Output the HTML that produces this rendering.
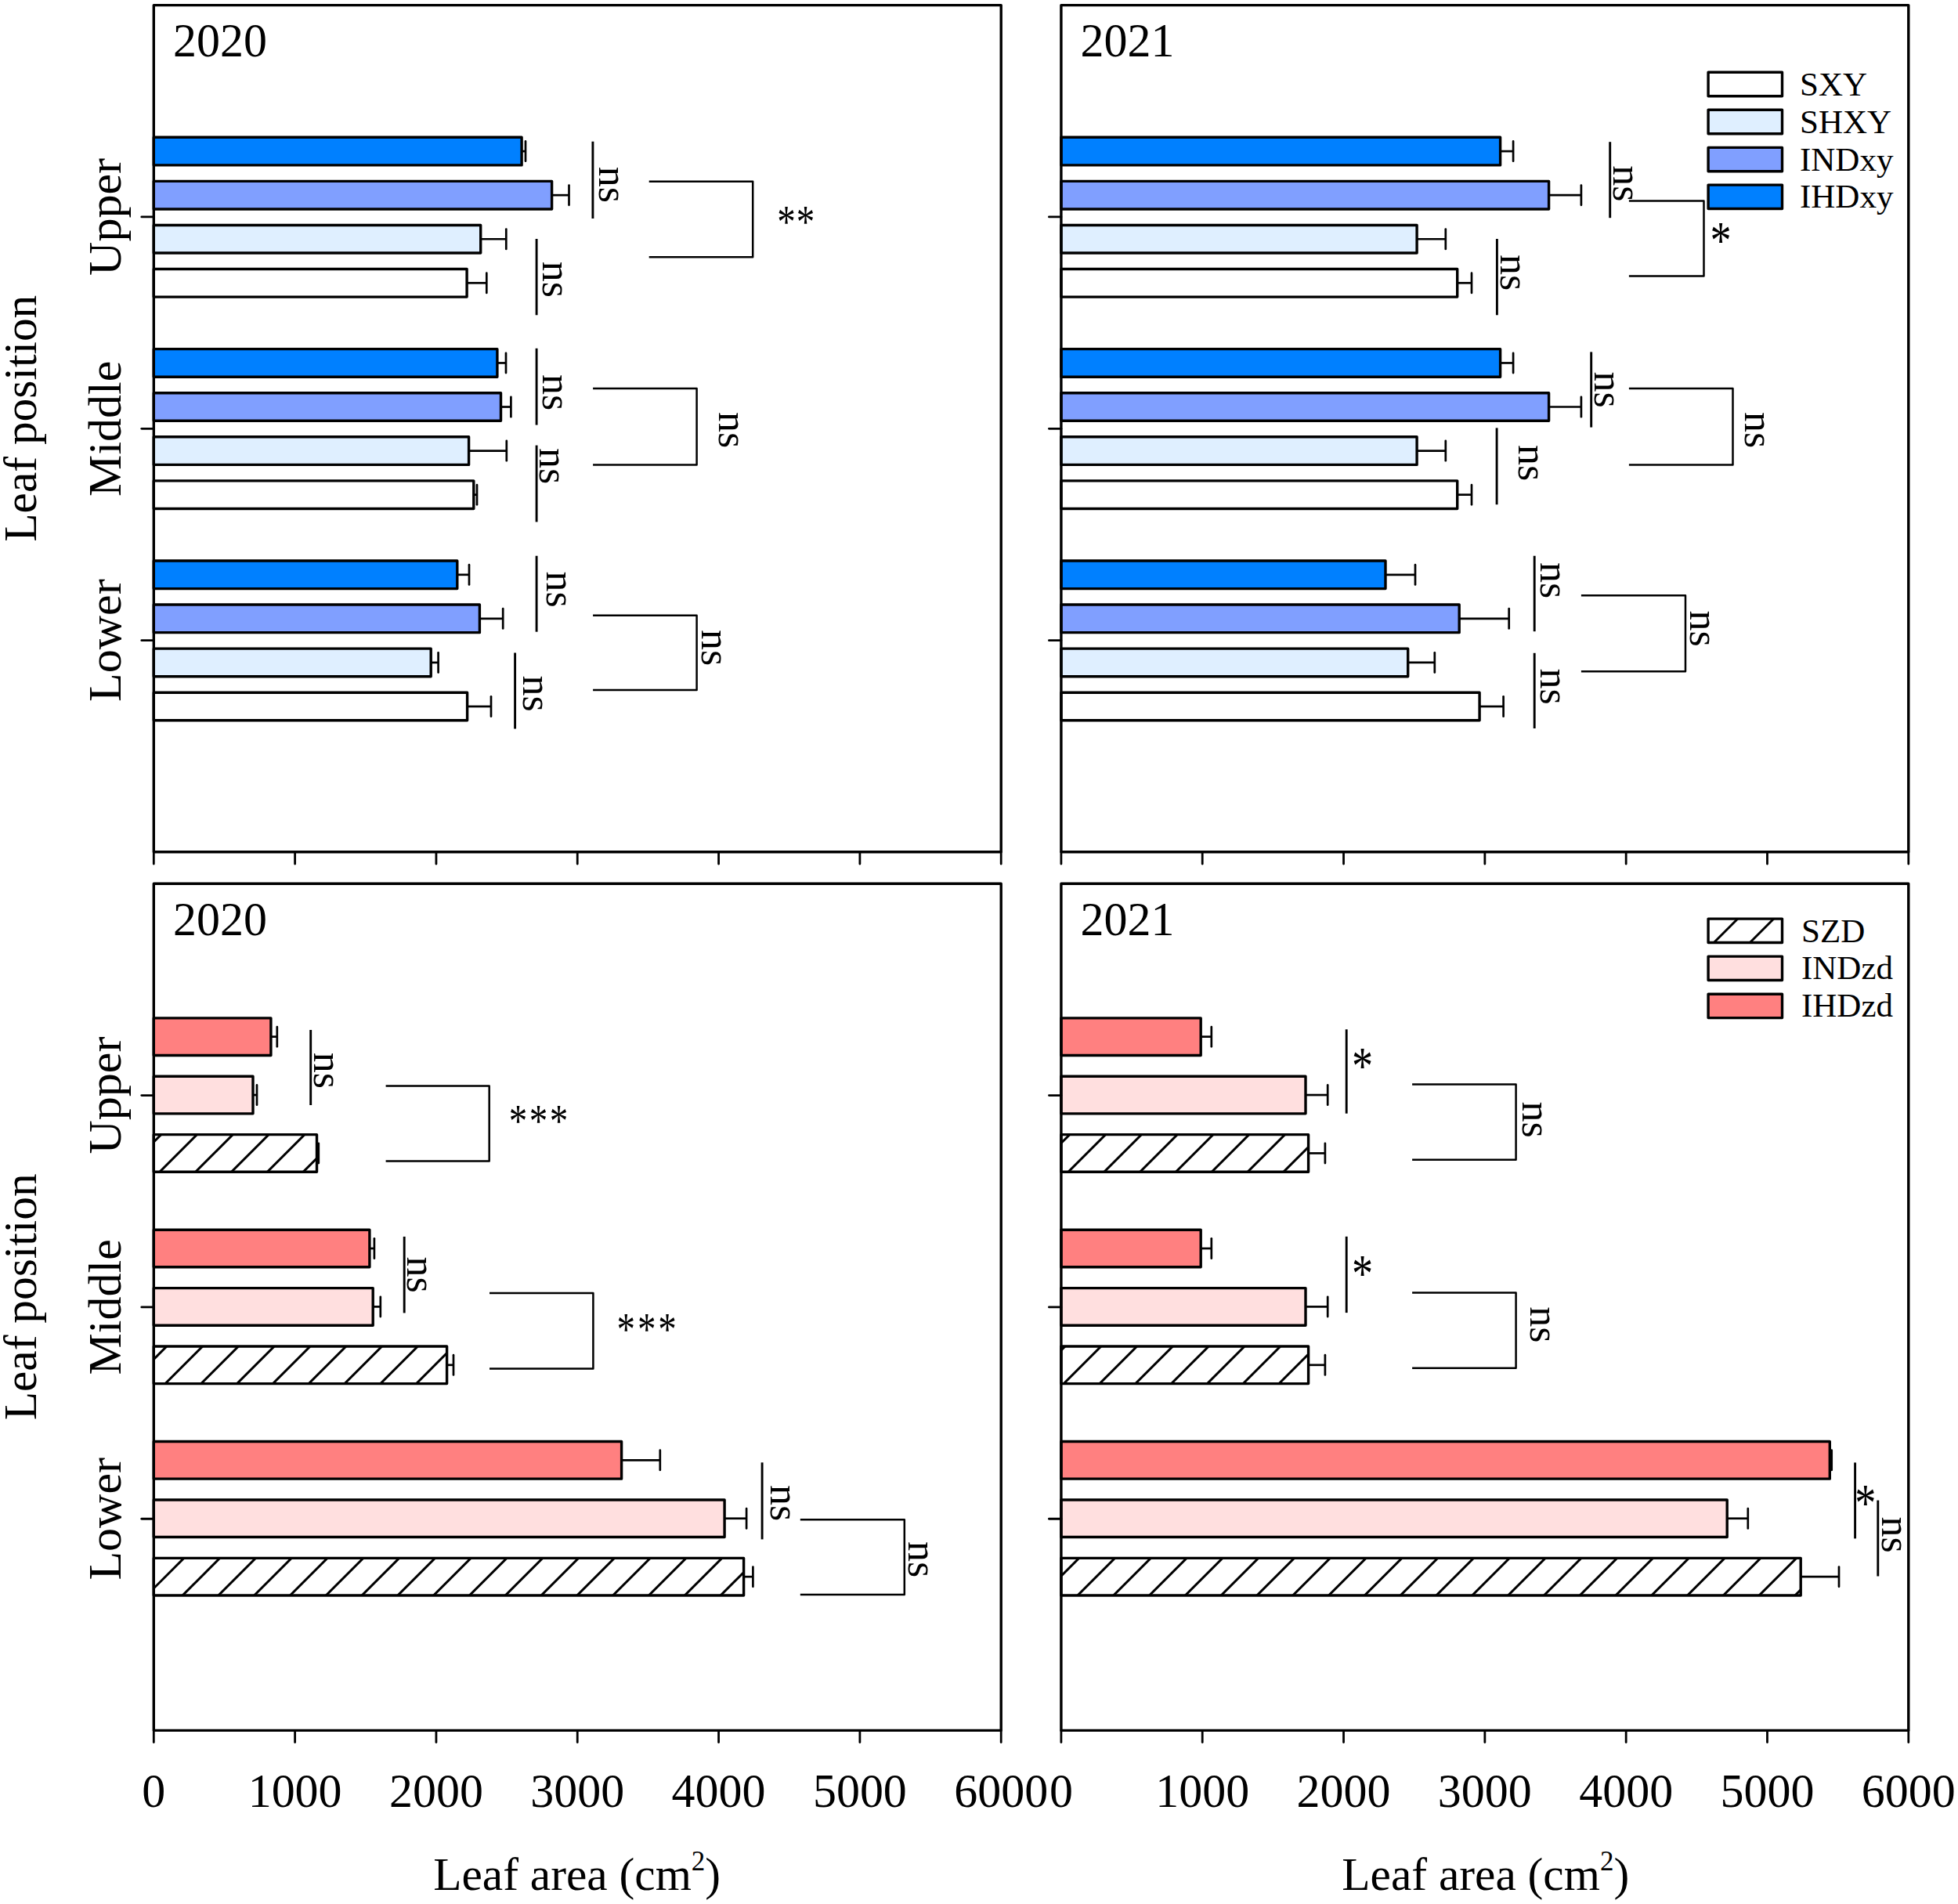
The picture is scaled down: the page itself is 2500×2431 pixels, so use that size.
<!DOCTYPE html>
<html><head><meta charset="utf-8"><title>Leaf area by leaf position</title>
<style>html,body{margin:0;padding:0;background:#fff}svg{display:block}</style>
</head><body>
<svg width="2500" height="2431" viewBox="0 0 2500 2431" font-family='"Liberation Serif", "Times New Roman", serif' fill="#000">
<rect width="2500" height="2431" fill="#fff"/>
<defs>
</defs>
<line x1="666.10" y1="193.10" x2="671.00" y2="193.10" stroke="#000" stroke-width="2.7" stroke-linecap="butt"/>
<line x1="671.00" y1="180.45" x2="671.00" y2="205.75" stroke="#000" stroke-width="2.7" stroke-linecap="round"/>
<rect x="196.30" y="175.30" width="469.80" height="35.60" fill="#0080ff" stroke="#000" stroke-width="3.4" stroke-linejoin="round"/>
<line x1="704.60" y1="249.17" x2="726.50" y2="249.17" stroke="#000" stroke-width="2.7" stroke-linecap="butt"/>
<line x1="726.50" y1="236.52" x2="726.50" y2="261.82" stroke="#000" stroke-width="2.7" stroke-linecap="round"/>
<rect x="196.30" y="231.37" width="508.30" height="35.60" fill="#809fff" stroke="#000" stroke-width="3.4" stroke-linejoin="round"/>
<line x1="613.70" y1="305.23" x2="646.30" y2="305.23" stroke="#000" stroke-width="2.7" stroke-linecap="butt"/>
<line x1="646.30" y1="292.58" x2="646.30" y2="317.88" stroke="#000" stroke-width="2.7" stroke-linecap="round"/>
<rect x="196.30" y="287.43" width="417.40" height="35.60" fill="#dfefff" stroke="#000" stroke-width="3.4" stroke-linejoin="round"/>
<line x1="596.10" y1="361.30" x2="621.30" y2="361.30" stroke="#000" stroke-width="2.7" stroke-linecap="butt"/>
<line x1="621.30" y1="348.65" x2="621.30" y2="373.95" stroke="#000" stroke-width="2.7" stroke-linecap="round"/>
<rect x="196.30" y="343.50" width="399.80" height="35.60" fill="#ffffff" stroke="#000" stroke-width="3.4" stroke-linejoin="round"/>
<line x1="634.90" y1="463.45" x2="646.00" y2="463.45" stroke="#000" stroke-width="2.7" stroke-linecap="butt"/>
<line x1="646.00" y1="450.80" x2="646.00" y2="476.10" stroke="#000" stroke-width="2.7" stroke-linecap="round"/>
<rect x="196.30" y="445.65" width="438.60" height="35.60" fill="#0080ff" stroke="#000" stroke-width="3.4" stroke-linejoin="round"/>
<line x1="639.50" y1="519.52" x2="652.40" y2="519.52" stroke="#000" stroke-width="2.7" stroke-linecap="butt"/>
<line x1="652.40" y1="506.87" x2="652.40" y2="532.17" stroke="#000" stroke-width="2.7" stroke-linecap="round"/>
<rect x="196.30" y="501.72" width="443.20" height="35.60" fill="#809fff" stroke="#000" stroke-width="3.4" stroke-linejoin="round"/>
<line x1="598.60" y1="575.58" x2="646.80" y2="575.58" stroke="#000" stroke-width="2.7" stroke-linecap="butt"/>
<line x1="646.80" y1="562.93" x2="646.80" y2="588.23" stroke="#000" stroke-width="2.7" stroke-linecap="round"/>
<rect x="196.30" y="557.78" width="402.30" height="35.60" fill="#dfefff" stroke="#000" stroke-width="3.4" stroke-linejoin="round"/>
<line x1="604.80" y1="631.65" x2="609.00" y2="631.65" stroke="#000" stroke-width="2.7" stroke-linecap="butt"/>
<line x1="609.00" y1="619.00" x2="609.00" y2="644.30" stroke="#000" stroke-width="2.7" stroke-linecap="round"/>
<rect x="196.30" y="613.85" width="408.50" height="35.60" fill="#ffffff" stroke="#000" stroke-width="3.4" stroke-linejoin="round"/>
<line x1="583.80" y1="733.80" x2="599.00" y2="733.80" stroke="#000" stroke-width="2.7" stroke-linecap="butt"/>
<line x1="599.00" y1="721.15" x2="599.00" y2="746.45" stroke="#000" stroke-width="2.7" stroke-linecap="round"/>
<rect x="196.30" y="716.00" width="387.50" height="35.60" fill="#0080ff" stroke="#000" stroke-width="3.4" stroke-linejoin="round"/>
<line x1="612.40" y1="789.87" x2="642.20" y2="789.87" stroke="#000" stroke-width="2.7" stroke-linecap="butt"/>
<line x1="642.20" y1="777.22" x2="642.20" y2="802.52" stroke="#000" stroke-width="2.7" stroke-linecap="round"/>
<rect x="196.30" y="772.07" width="416.10" height="35.60" fill="#809fff" stroke="#000" stroke-width="3.4" stroke-linejoin="round"/>
<line x1="550.20" y1="845.93" x2="559.60" y2="845.93" stroke="#000" stroke-width="2.7" stroke-linecap="butt"/>
<line x1="559.60" y1="833.28" x2="559.60" y2="858.58" stroke="#000" stroke-width="2.7" stroke-linecap="round"/>
<rect x="196.30" y="828.13" width="353.90" height="35.60" fill="#dfefff" stroke="#000" stroke-width="3.4" stroke-linejoin="round"/>
<line x1="596.60" y1="902.00" x2="627.00" y2="902.00" stroke="#000" stroke-width="2.7" stroke-linecap="butt"/>
<line x1="627.00" y1="889.35" x2="627.00" y2="914.65" stroke="#000" stroke-width="2.7" stroke-linecap="round"/>
<rect x="196.30" y="884.20" width="400.30" height="35.60" fill="#ffffff" stroke="#000" stroke-width="3.4" stroke-linejoin="round"/>
<rect x="196.30" y="6.60" width="1081.90" height="1081.20" fill="none" stroke="#000" stroke-width="3.4" stroke-linejoin="round"/>
<line x1="196.30" y1="1087.80" x2="196.30" y2="1103.00" stroke="#000" stroke-width="2.8000000000000003" stroke-linecap="round"/>
<line x1="376.62" y1="1087.80" x2="376.62" y2="1103.00" stroke="#000" stroke-width="2.8000000000000003" stroke-linecap="round"/>
<line x1="556.93" y1="1087.80" x2="556.93" y2="1103.00" stroke="#000" stroke-width="2.8000000000000003" stroke-linecap="round"/>
<line x1="737.25" y1="1087.80" x2="737.25" y2="1103.00" stroke="#000" stroke-width="2.8000000000000003" stroke-linecap="round"/>
<line x1="917.57" y1="1087.80" x2="917.57" y2="1103.00" stroke="#000" stroke-width="2.8000000000000003" stroke-linecap="round"/>
<line x1="1097.88" y1="1087.80" x2="1097.88" y2="1103.00" stroke="#000" stroke-width="2.8000000000000003" stroke-linecap="round"/>
<line x1="1278.20" y1="1087.80" x2="1278.20" y2="1103.00" stroke="#000" stroke-width="2.8000000000000003" stroke-linecap="round"/>
<line x1="180.80" y1="276.95" x2="196.30" y2="276.95" stroke="#000" stroke-width="2.8000000000000003" stroke-linecap="round"/>
<text transform="translate(153.70 276.95) rotate(-90)" font-size="60" text-anchor="middle">Upper</text>
<line x1="180.80" y1="547.30" x2="196.30" y2="547.30" stroke="#000" stroke-width="2.8000000000000003" stroke-linecap="round"/>
<text transform="translate(153.70 547.30) rotate(-90)" font-size="60" text-anchor="middle">Middle</text>
<line x1="180.80" y1="817.65" x2="196.30" y2="817.65" stroke="#000" stroke-width="2.8000000000000003" stroke-linecap="round"/>
<text transform="translate(153.70 817.65) rotate(-90)" font-size="60" text-anchor="middle">Lower</text>
<text transform="translate(220.90 72.20) scale(1 1.02)" font-size="60">2020</text>
<text transform="translate(46.20 534.20) rotate(-90)" font-size="59.4" text-anchor="middle">Leaf position</text>
<line x1="1915.60" y1="193.10" x2="1932.10" y2="193.10" stroke="#000" stroke-width="2.7" stroke-linecap="butt"/>
<line x1="1932.10" y1="180.45" x2="1932.10" y2="205.75" stroke="#000" stroke-width="2.7" stroke-linecap="round"/>
<rect x="1354.90" y="175.30" width="560.70" height="35.60" fill="#0080ff" stroke="#000" stroke-width="3.4" stroke-linejoin="round"/>
<line x1="1977.60" y1="249.17" x2="2018.90" y2="249.17" stroke="#000" stroke-width="2.7" stroke-linecap="butt"/>
<line x1="2018.90" y1="236.52" x2="2018.90" y2="261.82" stroke="#000" stroke-width="2.7" stroke-linecap="round"/>
<rect x="1354.90" y="231.37" width="622.70" height="35.60" fill="#809fff" stroke="#000" stroke-width="3.4" stroke-linejoin="round"/>
<line x1="1809.10" y1="305.23" x2="1845.80" y2="305.23" stroke="#000" stroke-width="2.7" stroke-linecap="butt"/>
<line x1="1845.80" y1="292.58" x2="1845.80" y2="317.88" stroke="#000" stroke-width="2.7" stroke-linecap="round"/>
<rect x="1354.90" y="287.43" width="454.20" height="35.60" fill="#dfefff" stroke="#000" stroke-width="3.4" stroke-linejoin="round"/>
<line x1="1860.70" y1="361.30" x2="1879.00" y2="361.30" stroke="#000" stroke-width="2.7" stroke-linecap="butt"/>
<line x1="1879.00" y1="348.65" x2="1879.00" y2="373.95" stroke="#000" stroke-width="2.7" stroke-linecap="round"/>
<rect x="1354.90" y="343.50" width="505.80" height="35.60" fill="#ffffff" stroke="#000" stroke-width="3.4" stroke-linejoin="round"/>
<line x1="1915.60" y1="463.45" x2="1932.10" y2="463.45" stroke="#000" stroke-width="2.7" stroke-linecap="butt"/>
<line x1="1932.10" y1="450.80" x2="1932.10" y2="476.10" stroke="#000" stroke-width="2.7" stroke-linecap="round"/>
<rect x="1354.90" y="445.65" width="560.70" height="35.60" fill="#0080ff" stroke="#000" stroke-width="3.4" stroke-linejoin="round"/>
<line x1="1977.60" y1="519.52" x2="2018.90" y2="519.52" stroke="#000" stroke-width="2.7" stroke-linecap="butt"/>
<line x1="2018.90" y1="506.87" x2="2018.90" y2="532.17" stroke="#000" stroke-width="2.7" stroke-linecap="round"/>
<rect x="1354.90" y="501.72" width="622.70" height="35.60" fill="#809fff" stroke="#000" stroke-width="3.4" stroke-linejoin="round"/>
<line x1="1809.10" y1="575.58" x2="1845.80" y2="575.58" stroke="#000" stroke-width="2.7" stroke-linecap="butt"/>
<line x1="1845.80" y1="562.93" x2="1845.80" y2="588.23" stroke="#000" stroke-width="2.7" stroke-linecap="round"/>
<rect x="1354.90" y="557.78" width="454.20" height="35.60" fill="#dfefff" stroke="#000" stroke-width="3.4" stroke-linejoin="round"/>
<line x1="1860.70" y1="631.65" x2="1879.00" y2="631.65" stroke="#000" stroke-width="2.7" stroke-linecap="butt"/>
<line x1="1879.00" y1="619.00" x2="1879.00" y2="644.30" stroke="#000" stroke-width="2.7" stroke-linecap="round"/>
<rect x="1354.90" y="613.85" width="505.80" height="35.60" fill="#ffffff" stroke="#000" stroke-width="3.4" stroke-linejoin="round"/>
<line x1="1769.00" y1="733.80" x2="1807.00" y2="733.80" stroke="#000" stroke-width="2.7" stroke-linecap="butt"/>
<line x1="1807.00" y1="721.15" x2="1807.00" y2="746.45" stroke="#000" stroke-width="2.7" stroke-linecap="round"/>
<rect x="1354.90" y="716.00" width="414.10" height="35.60" fill="#0080ff" stroke="#000" stroke-width="3.4" stroke-linejoin="round"/>
<line x1="1863.20" y1="789.87" x2="1926.70" y2="789.87" stroke="#000" stroke-width="2.7" stroke-linecap="butt"/>
<line x1="1926.70" y1="777.22" x2="1926.70" y2="802.52" stroke="#000" stroke-width="2.7" stroke-linecap="round"/>
<rect x="1354.90" y="772.07" width="508.30" height="35.60" fill="#809fff" stroke="#000" stroke-width="3.4" stroke-linejoin="round"/>
<line x1="1797.70" y1="845.93" x2="1831.80" y2="845.93" stroke="#000" stroke-width="2.7" stroke-linecap="butt"/>
<line x1="1831.80" y1="833.28" x2="1831.80" y2="858.58" stroke="#000" stroke-width="2.7" stroke-linecap="round"/>
<rect x="1354.90" y="828.13" width="442.80" height="35.60" fill="#dfefff" stroke="#000" stroke-width="3.4" stroke-linejoin="round"/>
<line x1="1889.10" y1="902.00" x2="1919.60" y2="902.00" stroke="#000" stroke-width="2.7" stroke-linecap="butt"/>
<line x1="1919.60" y1="889.35" x2="1919.60" y2="914.65" stroke="#000" stroke-width="2.7" stroke-linecap="round"/>
<rect x="1354.90" y="884.20" width="534.20" height="35.60" fill="#ffffff" stroke="#000" stroke-width="3.4" stroke-linejoin="round"/>
<rect x="1354.90" y="6.60" width="1081.90" height="1081.20" fill="none" stroke="#000" stroke-width="3.4" stroke-linejoin="round"/>
<line x1="1354.90" y1="1087.80" x2="1354.90" y2="1103.00" stroke="#000" stroke-width="2.8000000000000003" stroke-linecap="round"/>
<line x1="1535.22" y1="1087.80" x2="1535.22" y2="1103.00" stroke="#000" stroke-width="2.8000000000000003" stroke-linecap="round"/>
<line x1="1715.53" y1="1087.80" x2="1715.53" y2="1103.00" stroke="#000" stroke-width="2.8000000000000003" stroke-linecap="round"/>
<line x1="1895.85" y1="1087.80" x2="1895.85" y2="1103.00" stroke="#000" stroke-width="2.8000000000000003" stroke-linecap="round"/>
<line x1="2076.17" y1="1087.80" x2="2076.17" y2="1103.00" stroke="#000" stroke-width="2.8000000000000003" stroke-linecap="round"/>
<line x1="2256.48" y1="1087.80" x2="2256.48" y2="1103.00" stroke="#000" stroke-width="2.8000000000000003" stroke-linecap="round"/>
<line x1="2436.80" y1="1087.80" x2="2436.80" y2="1103.00" stroke="#000" stroke-width="2.8000000000000003" stroke-linecap="round"/>
<line x1="1339.40" y1="276.95" x2="1354.90" y2="276.95" stroke="#000" stroke-width="2.8000000000000003" stroke-linecap="round"/>
<line x1="1339.40" y1="547.30" x2="1354.90" y2="547.30" stroke="#000" stroke-width="2.8000000000000003" stroke-linecap="round"/>
<line x1="1339.40" y1="817.65" x2="1354.90" y2="817.65" stroke="#000" stroke-width="2.8000000000000003" stroke-linecap="round"/>
<text transform="translate(1379.50 72.20) scale(1 1.02)" font-size="60">2021</text>
<line x1="345.90" y1="1323.65" x2="353.80" y2="1323.65" stroke="#000" stroke-width="2.7" stroke-linecap="butt"/>
<line x1="353.80" y1="1311.00" x2="353.80" y2="1336.30" stroke="#000" stroke-width="2.7" stroke-linecap="round"/>
<rect x="196.30" y="1299.85" width="149.60" height="47.60" fill="#ff8080" stroke="#000" stroke-width="3.4" stroke-linejoin="round"/>
<line x1="323.00" y1="1398.05" x2="328.00" y2="1398.05" stroke="#000" stroke-width="2.7" stroke-linecap="butt"/>
<line x1="328.00" y1="1385.40" x2="328.00" y2="1410.70" stroke="#000" stroke-width="2.7" stroke-linecap="round"/>
<rect x="196.30" y="1374.25" width="126.70" height="47.60" fill="#ffdfdf" stroke="#000" stroke-width="3.4" stroke-linejoin="round"/>
<line x1="404.50" y1="1472.45" x2="406.80" y2="1472.45" stroke="#000" stroke-width="2.7" stroke-linecap="butt"/>
<line x1="406.80" y1="1459.80" x2="406.80" y2="1485.10" stroke="#000" stroke-width="2.7" stroke-linecap="round"/>
<clipPath id="c1"><rect x="196.30" y="1448.65" width="208.20" height="47.60"/></clipPath>
<rect x="196.30" y="1448.65" width="208.20" height="47.60" fill="#fff"/>
<g clip-path="url(#c1)">
<line x1="153.10" y1="1501.25" x2="210.70" y2="1443.65" stroke="#000" stroke-width="3.0" stroke-linecap="butt"/>
<line x1="198.90" y1="1501.25" x2="256.50" y2="1443.65" stroke="#000" stroke-width="3.0" stroke-linecap="butt"/>
<line x1="244.70" y1="1501.25" x2="302.30" y2="1443.65" stroke="#000" stroke-width="3.0" stroke-linecap="butt"/>
<line x1="290.50" y1="1501.25" x2="348.10" y2="1443.65" stroke="#000" stroke-width="3.0" stroke-linecap="butt"/>
<line x1="336.30" y1="1501.25" x2="393.90" y2="1443.65" stroke="#000" stroke-width="3.0" stroke-linecap="butt"/>
<line x1="382.10" y1="1501.25" x2="439.70" y2="1443.65" stroke="#000" stroke-width="3.0" stroke-linecap="butt"/>
</g>
<rect x="196.30" y="1448.65" width="208.20" height="47.60" fill="none" stroke="#000" stroke-width="3.4" stroke-linejoin="round"/>
<line x1="471.90" y1="1594.00" x2="477.90" y2="1594.00" stroke="#000" stroke-width="2.7" stroke-linecap="butt"/>
<line x1="477.90" y1="1581.35" x2="477.90" y2="1606.65" stroke="#000" stroke-width="2.7" stroke-linecap="round"/>
<rect x="196.30" y="1570.20" width="275.60" height="47.60" fill="#ff8080" stroke="#000" stroke-width="3.4" stroke-linejoin="round"/>
<line x1="476.20" y1="1668.40" x2="485.80" y2="1668.40" stroke="#000" stroke-width="2.7" stroke-linecap="butt"/>
<line x1="485.80" y1="1655.75" x2="485.80" y2="1681.05" stroke="#000" stroke-width="2.7" stroke-linecap="round"/>
<rect x="196.30" y="1644.60" width="279.90" height="47.60" fill="#ffdfdf" stroke="#000" stroke-width="3.4" stroke-linejoin="round"/>
<line x1="570.60" y1="1742.80" x2="579.00" y2="1742.80" stroke="#000" stroke-width="2.7" stroke-linecap="butt"/>
<line x1="579.00" y1="1730.15" x2="579.00" y2="1755.45" stroke="#000" stroke-width="2.7" stroke-linecap="round"/>
<clipPath id="c2"><rect x="196.30" y="1719.00" width="374.30" height="47.60"/></clipPath>
<rect x="196.30" y="1719.00" width="374.30" height="47.60" fill="#fff"/>
<g clip-path="url(#c2)">
<line x1="160.20" y1="1771.60" x2="217.80" y2="1714.00" stroke="#000" stroke-width="3.0" stroke-linecap="butt"/>
<line x1="206.00" y1="1771.60" x2="263.60" y2="1714.00" stroke="#000" stroke-width="3.0" stroke-linecap="butt"/>
<line x1="251.80" y1="1771.60" x2="309.40" y2="1714.00" stroke="#000" stroke-width="3.0" stroke-linecap="butt"/>
<line x1="297.60" y1="1771.60" x2="355.20" y2="1714.00" stroke="#000" stroke-width="3.0" stroke-linecap="butt"/>
<line x1="343.40" y1="1771.60" x2="401.00" y2="1714.00" stroke="#000" stroke-width="3.0" stroke-linecap="butt"/>
<line x1="389.20" y1="1771.60" x2="446.80" y2="1714.00" stroke="#000" stroke-width="3.0" stroke-linecap="butt"/>
<line x1="435.00" y1="1771.60" x2="492.60" y2="1714.00" stroke="#000" stroke-width="3.0" stroke-linecap="butt"/>
<line x1="480.80" y1="1771.60" x2="538.40" y2="1714.00" stroke="#000" stroke-width="3.0" stroke-linecap="butt"/>
<line x1="526.60" y1="1771.60" x2="584.20" y2="1714.00" stroke="#000" stroke-width="3.0" stroke-linecap="butt"/>
</g>
<rect x="196.30" y="1719.00" width="374.30" height="47.60" fill="none" stroke="#000" stroke-width="3.4" stroke-linejoin="round"/>
<line x1="793.60" y1="1864.35" x2="842.80" y2="1864.35" stroke="#000" stroke-width="2.7" stroke-linecap="butt"/>
<line x1="842.80" y1="1851.70" x2="842.80" y2="1877.00" stroke="#000" stroke-width="2.7" stroke-linecap="round"/>
<rect x="196.30" y="1840.55" width="597.30" height="47.60" fill="#ff8080" stroke="#000" stroke-width="3.4" stroke-linejoin="round"/>
<line x1="925.10" y1="1938.75" x2="953.10" y2="1938.75" stroke="#000" stroke-width="2.7" stroke-linecap="butt"/>
<line x1="953.10" y1="1926.10" x2="953.10" y2="1951.40" stroke="#000" stroke-width="2.7" stroke-linecap="round"/>
<rect x="196.30" y="1914.95" width="728.80" height="47.60" fill="#ffdfdf" stroke="#000" stroke-width="3.4" stroke-linejoin="round"/>
<line x1="949.60" y1="2013.15" x2="961.40" y2="2013.15" stroke="#000" stroke-width="2.7" stroke-linecap="butt"/>
<line x1="961.40" y1="2000.50" x2="961.40" y2="2025.80" stroke="#000" stroke-width="2.7" stroke-linecap="round"/>
<clipPath id="c3"><rect x="196.30" y="1989.35" width="753.30" height="47.60"/></clipPath>
<rect x="196.30" y="1989.35" width="753.30" height="47.60" fill="#fff"/>
<g clip-path="url(#c3)">
<line x1="182.30" y1="2041.95" x2="239.90" y2="1984.35" stroke="#000" stroke-width="3.0" stroke-linecap="butt"/>
<line x1="228.10" y1="2041.95" x2="285.70" y2="1984.35" stroke="#000" stroke-width="3.0" stroke-linecap="butt"/>
<line x1="273.90" y1="2041.95" x2="331.50" y2="1984.35" stroke="#000" stroke-width="3.0" stroke-linecap="butt"/>
<line x1="319.70" y1="2041.95" x2="377.30" y2="1984.35" stroke="#000" stroke-width="3.0" stroke-linecap="butt"/>
<line x1="365.50" y1="2041.95" x2="423.10" y2="1984.35" stroke="#000" stroke-width="3.0" stroke-linecap="butt"/>
<line x1="411.30" y1="2041.95" x2="468.90" y2="1984.35" stroke="#000" stroke-width="3.0" stroke-linecap="butt"/>
<line x1="457.10" y1="2041.95" x2="514.70" y2="1984.35" stroke="#000" stroke-width="3.0" stroke-linecap="butt"/>
<line x1="502.90" y1="2041.95" x2="560.50" y2="1984.35" stroke="#000" stroke-width="3.0" stroke-linecap="butt"/>
<line x1="548.70" y1="2041.95" x2="606.30" y2="1984.35" stroke="#000" stroke-width="3.0" stroke-linecap="butt"/>
<line x1="594.50" y1="2041.95" x2="652.10" y2="1984.35" stroke="#000" stroke-width="3.0" stroke-linecap="butt"/>
<line x1="640.30" y1="2041.95" x2="697.90" y2="1984.35" stroke="#000" stroke-width="3.0" stroke-linecap="butt"/>
<line x1="686.10" y1="2041.95" x2="743.70" y2="1984.35" stroke="#000" stroke-width="3.0" stroke-linecap="butt"/>
<line x1="731.90" y1="2041.95" x2="789.50" y2="1984.35" stroke="#000" stroke-width="3.0" stroke-linecap="butt"/>
<line x1="777.70" y1="2041.95" x2="835.30" y2="1984.35" stroke="#000" stroke-width="3.0" stroke-linecap="butt"/>
<line x1="823.50" y1="2041.95" x2="881.10" y2="1984.35" stroke="#000" stroke-width="3.0" stroke-linecap="butt"/>
<line x1="869.30" y1="2041.95" x2="926.90" y2="1984.35" stroke="#000" stroke-width="3.0" stroke-linecap="butt"/>
<line x1="915.10" y1="2041.95" x2="972.70" y2="1984.35" stroke="#000" stroke-width="3.0" stroke-linecap="butt"/>
</g>
<rect x="196.30" y="1989.35" width="753.30" height="47.60" fill="none" stroke="#000" stroke-width="3.4" stroke-linejoin="round"/>
<rect x="196.30" y="1128.20" width="1081.90" height="1081.20" fill="none" stroke="#000" stroke-width="3.4" stroke-linejoin="round"/>
<line x1="196.30" y1="2209.40" x2="196.30" y2="2224.60" stroke="#000" stroke-width="2.8000000000000003" stroke-linecap="round"/>
<text transform="translate(196.30 2307.0) scale(1 1.035)" font-size="60" text-anchor="middle">0</text>
<line x1="376.62" y1="2209.40" x2="376.62" y2="2224.60" stroke="#000" stroke-width="2.8000000000000003" stroke-linecap="round"/>
<text transform="translate(376.62 2307.0) scale(1 1.035)" font-size="60" text-anchor="middle">1000</text>
<line x1="556.93" y1="2209.40" x2="556.93" y2="2224.60" stroke="#000" stroke-width="2.8000000000000003" stroke-linecap="round"/>
<text transform="translate(556.93 2307.0) scale(1 1.035)" font-size="60" text-anchor="middle">2000</text>
<line x1="737.25" y1="2209.40" x2="737.25" y2="2224.60" stroke="#000" stroke-width="2.8000000000000003" stroke-linecap="round"/>
<text transform="translate(737.25 2307.0) scale(1 1.035)" font-size="60" text-anchor="middle">3000</text>
<line x1="917.57" y1="2209.40" x2="917.57" y2="2224.60" stroke="#000" stroke-width="2.8000000000000003" stroke-linecap="round"/>
<text transform="translate(917.57 2307.0) scale(1 1.035)" font-size="60" text-anchor="middle">4000</text>
<line x1="1097.88" y1="2209.40" x2="1097.88" y2="2224.60" stroke="#000" stroke-width="2.8000000000000003" stroke-linecap="round"/>
<text transform="translate(1097.88 2307.0) scale(1 1.035)" font-size="60" text-anchor="middle">5000</text>
<line x1="1278.20" y1="2209.40" x2="1278.20" y2="2224.60" stroke="#000" stroke-width="2.8000000000000003" stroke-linecap="round"/>
<text transform="translate(1278.20 2307.0) scale(1 1.035)" font-size="60" text-anchor="middle">6000</text>
<line x1="180.80" y1="1398.55" x2="196.30" y2="1398.55" stroke="#000" stroke-width="2.8000000000000003" stroke-linecap="round"/>
<text transform="translate(153.70 1398.55) rotate(-90)" font-size="60" text-anchor="middle">Upper</text>
<line x1="180.80" y1="1668.90" x2="196.30" y2="1668.90" stroke="#000" stroke-width="2.8000000000000003" stroke-linecap="round"/>
<text transform="translate(153.70 1668.90) rotate(-90)" font-size="60" text-anchor="middle">Middle</text>
<line x1="180.80" y1="1939.25" x2="196.30" y2="1939.25" stroke="#000" stroke-width="2.8000000000000003" stroke-linecap="round"/>
<text transform="translate(153.70 1939.25) rotate(-90)" font-size="60" text-anchor="middle">Lower</text>
<text transform="translate(220.90 1193.80) scale(1 1.02)" font-size="60">2020</text>
<text x="736.65" y="2412.6" font-size="59.4" text-anchor="middle">Leaf area (cm<tspan font-size="35" dy="-24.6">2</tspan><tspan dy="24.6">)</tspan></text>
<text transform="translate(46.20 1655.80) rotate(-90)" font-size="59.4" text-anchor="middle">Leaf position</text>
<line x1="1533.20" y1="1323.65" x2="1546.80" y2="1323.65" stroke="#000" stroke-width="2.7" stroke-linecap="butt"/>
<line x1="1546.80" y1="1311.00" x2="1546.80" y2="1336.30" stroke="#000" stroke-width="2.7" stroke-linecap="round"/>
<rect x="1354.90" y="1299.85" width="178.30" height="47.60" fill="#ff8080" stroke="#000" stroke-width="3.4" stroke-linejoin="round"/>
<line x1="1667.00" y1="1398.05" x2="1695.20" y2="1398.05" stroke="#000" stroke-width="2.7" stroke-linecap="butt"/>
<line x1="1695.20" y1="1385.40" x2="1695.20" y2="1410.70" stroke="#000" stroke-width="2.7" stroke-linecap="round"/>
<rect x="1354.90" y="1374.25" width="312.10" height="47.60" fill="#ffdfdf" stroke="#000" stroke-width="3.4" stroke-linejoin="round"/>
<line x1="1670.60" y1="1472.45" x2="1691.90" y2="1472.45" stroke="#000" stroke-width="2.7" stroke-linecap="butt"/>
<line x1="1691.90" y1="1459.80" x2="1691.90" y2="1485.10" stroke="#000" stroke-width="2.7" stroke-linecap="round"/>
<clipPath id="c4"><rect x="1354.90" y="1448.65" width="315.70" height="47.60"/></clipPath>
<rect x="1354.90" y="1448.65" width="315.70" height="47.60" fill="#fff"/>
<g clip-path="url(#c4)">
<line x1="1313.20" y1="1501.25" x2="1370.80" y2="1443.65" stroke="#000" stroke-width="3.0" stroke-linecap="butt"/>
<line x1="1359.00" y1="1501.25" x2="1416.60" y2="1443.65" stroke="#000" stroke-width="3.0" stroke-linecap="butt"/>
<line x1="1404.80" y1="1501.25" x2="1462.40" y2="1443.65" stroke="#000" stroke-width="3.0" stroke-linecap="butt"/>
<line x1="1450.60" y1="1501.25" x2="1508.20" y2="1443.65" stroke="#000" stroke-width="3.0" stroke-linecap="butt"/>
<line x1="1496.40" y1="1501.25" x2="1554.00" y2="1443.65" stroke="#000" stroke-width="3.0" stroke-linecap="butt"/>
<line x1="1542.20" y1="1501.25" x2="1599.80" y2="1443.65" stroke="#000" stroke-width="3.0" stroke-linecap="butt"/>
<line x1="1588.00" y1="1501.25" x2="1645.60" y2="1443.65" stroke="#000" stroke-width="3.0" stroke-linecap="butt"/>
<line x1="1633.80" y1="1501.25" x2="1691.40" y2="1443.65" stroke="#000" stroke-width="3.0" stroke-linecap="butt"/>
</g>
<rect x="1354.90" y="1448.65" width="315.70" height="47.60" fill="none" stroke="#000" stroke-width="3.4" stroke-linejoin="round"/>
<line x1="1533.20" y1="1594.00" x2="1546.80" y2="1594.00" stroke="#000" stroke-width="2.7" stroke-linecap="butt"/>
<line x1="1546.80" y1="1581.35" x2="1546.80" y2="1606.65" stroke="#000" stroke-width="2.7" stroke-linecap="round"/>
<rect x="1354.90" y="1570.20" width="178.30" height="47.60" fill="#ff8080" stroke="#000" stroke-width="3.4" stroke-linejoin="round"/>
<line x1="1667.00" y1="1668.40" x2="1695.20" y2="1668.40" stroke="#000" stroke-width="2.7" stroke-linecap="butt"/>
<line x1="1695.20" y1="1655.75" x2="1695.20" y2="1681.05" stroke="#000" stroke-width="2.7" stroke-linecap="round"/>
<rect x="1354.90" y="1644.60" width="312.10" height="47.60" fill="#ffdfdf" stroke="#000" stroke-width="3.4" stroke-linejoin="round"/>
<line x1="1670.60" y1="1742.80" x2="1691.90" y2="1742.80" stroke="#000" stroke-width="2.7" stroke-linecap="butt"/>
<line x1="1691.90" y1="1730.15" x2="1691.90" y2="1755.45" stroke="#000" stroke-width="2.7" stroke-linecap="round"/>
<clipPath id="c5"><rect x="1354.90" y="1719.00" width="315.70" height="47.60"/></clipPath>
<rect x="1354.90" y="1719.00" width="315.70" height="47.60" fill="#fff"/>
<g clip-path="url(#c5)">
<line x1="1307.40" y1="1771.60" x2="1365.00" y2="1714.00" stroke="#000" stroke-width="3.0" stroke-linecap="butt"/>
<line x1="1353.20" y1="1771.60" x2="1410.80" y2="1714.00" stroke="#000" stroke-width="3.0" stroke-linecap="butt"/>
<line x1="1399.00" y1="1771.60" x2="1456.60" y2="1714.00" stroke="#000" stroke-width="3.0" stroke-linecap="butt"/>
<line x1="1444.80" y1="1771.60" x2="1502.40" y2="1714.00" stroke="#000" stroke-width="3.0" stroke-linecap="butt"/>
<line x1="1490.60" y1="1771.60" x2="1548.20" y2="1714.00" stroke="#000" stroke-width="3.0" stroke-linecap="butt"/>
<line x1="1536.40" y1="1771.60" x2="1594.00" y2="1714.00" stroke="#000" stroke-width="3.0" stroke-linecap="butt"/>
<line x1="1582.20" y1="1771.60" x2="1639.80" y2="1714.00" stroke="#000" stroke-width="3.0" stroke-linecap="butt"/>
<line x1="1628.00" y1="1771.60" x2="1685.60" y2="1714.00" stroke="#000" stroke-width="3.0" stroke-linecap="butt"/>
</g>
<rect x="1354.90" y="1719.00" width="315.70" height="47.60" fill="none" stroke="#000" stroke-width="3.4" stroke-linejoin="round"/>
<line x1="2336.30" y1="1864.35" x2="2338.70" y2="1864.35" stroke="#000" stroke-width="2.7" stroke-linecap="butt"/>
<line x1="2338.70" y1="1851.70" x2="2338.70" y2="1877.00" stroke="#000" stroke-width="2.7" stroke-linecap="round"/>
<rect x="1354.90" y="1840.55" width="981.40" height="47.60" fill="#ff8080" stroke="#000" stroke-width="3.4" stroke-linejoin="round"/>
<line x1="2205.20" y1="1938.75" x2="2231.80" y2="1938.75" stroke="#000" stroke-width="2.7" stroke-linecap="butt"/>
<line x1="2231.80" y1="1926.10" x2="2231.80" y2="1951.40" stroke="#000" stroke-width="2.7" stroke-linecap="round"/>
<rect x="1354.90" y="1914.95" width="850.30" height="47.60" fill="#ffdfdf" stroke="#000" stroke-width="3.4" stroke-linejoin="round"/>
<line x1="2299.20" y1="2013.15" x2="2348.00" y2="2013.15" stroke="#000" stroke-width="2.7" stroke-linecap="butt"/>
<line x1="2348.00" y1="2000.50" x2="2348.00" y2="2025.80" stroke="#000" stroke-width="2.7" stroke-linecap="round"/>
<clipPath id="c6"><rect x="1354.90" y="1989.35" width="944.30" height="47.60"/></clipPath>
<rect x="1354.90" y="1989.35" width="944.30" height="47.60" fill="#fff"/>
<g clip-path="url(#c6)">
<line x1="1325.20" y1="2041.95" x2="1382.80" y2="1984.35" stroke="#000" stroke-width="3.0" stroke-linecap="butt"/>
<line x1="1371.00" y1="2041.95" x2="1428.60" y2="1984.35" stroke="#000" stroke-width="3.0" stroke-linecap="butt"/>
<line x1="1416.80" y1="2041.95" x2="1474.40" y2="1984.35" stroke="#000" stroke-width="3.0" stroke-linecap="butt"/>
<line x1="1462.60" y1="2041.95" x2="1520.20" y2="1984.35" stroke="#000" stroke-width="3.0" stroke-linecap="butt"/>
<line x1="1508.40" y1="2041.95" x2="1566.00" y2="1984.35" stroke="#000" stroke-width="3.0" stroke-linecap="butt"/>
<line x1="1554.20" y1="2041.95" x2="1611.80" y2="1984.35" stroke="#000" stroke-width="3.0" stroke-linecap="butt"/>
<line x1="1600.00" y1="2041.95" x2="1657.60" y2="1984.35" stroke="#000" stroke-width="3.0" stroke-linecap="butt"/>
<line x1="1645.80" y1="2041.95" x2="1703.40" y2="1984.35" stroke="#000" stroke-width="3.0" stroke-linecap="butt"/>
<line x1="1691.60" y1="2041.95" x2="1749.20" y2="1984.35" stroke="#000" stroke-width="3.0" stroke-linecap="butt"/>
<line x1="1737.40" y1="2041.95" x2="1795.00" y2="1984.35" stroke="#000" stroke-width="3.0" stroke-linecap="butt"/>
<line x1="1783.20" y1="2041.95" x2="1840.80" y2="1984.35" stroke="#000" stroke-width="3.0" stroke-linecap="butt"/>
<line x1="1829.00" y1="2041.95" x2="1886.60" y2="1984.35" stroke="#000" stroke-width="3.0" stroke-linecap="butt"/>
<line x1="1874.80" y1="2041.95" x2="1932.40" y2="1984.35" stroke="#000" stroke-width="3.0" stroke-linecap="butt"/>
<line x1="1920.60" y1="2041.95" x2="1978.20" y2="1984.35" stroke="#000" stroke-width="3.0" stroke-linecap="butt"/>
<line x1="1966.40" y1="2041.95" x2="2024.00" y2="1984.35" stroke="#000" stroke-width="3.0" stroke-linecap="butt"/>
<line x1="2012.20" y1="2041.95" x2="2069.80" y2="1984.35" stroke="#000" stroke-width="3.0" stroke-linecap="butt"/>
<line x1="2058.00" y1="2041.95" x2="2115.60" y2="1984.35" stroke="#000" stroke-width="3.0" stroke-linecap="butt"/>
<line x1="2103.80" y1="2041.95" x2="2161.40" y2="1984.35" stroke="#000" stroke-width="3.0" stroke-linecap="butt"/>
<line x1="2149.60" y1="2041.95" x2="2207.20" y2="1984.35" stroke="#000" stroke-width="3.0" stroke-linecap="butt"/>
<line x1="2195.40" y1="2041.95" x2="2253.00" y2="1984.35" stroke="#000" stroke-width="3.0" stroke-linecap="butt"/>
<line x1="2241.20" y1="2041.95" x2="2298.80" y2="1984.35" stroke="#000" stroke-width="3.0" stroke-linecap="butt"/>
<line x1="2287.00" y1="2041.95" x2="2344.60" y2="1984.35" stroke="#000" stroke-width="3.0" stroke-linecap="butt"/>
</g>
<rect x="1354.90" y="1989.35" width="944.30" height="47.60" fill="none" stroke="#000" stroke-width="3.4" stroke-linejoin="round"/>
<rect x="1354.90" y="1128.20" width="1081.90" height="1081.20" fill="none" stroke="#000" stroke-width="3.4" stroke-linejoin="round"/>
<line x1="1354.90" y1="2209.40" x2="1354.90" y2="2224.60" stroke="#000" stroke-width="2.8000000000000003" stroke-linecap="round"/>
<text transform="translate(1354.90 2307.0) scale(1 1.035)" font-size="60" text-anchor="middle">0</text>
<line x1="1535.22" y1="2209.40" x2="1535.22" y2="2224.60" stroke="#000" stroke-width="2.8000000000000003" stroke-linecap="round"/>
<text transform="translate(1535.22 2307.0) scale(1 1.035)" font-size="60" text-anchor="middle">1000</text>
<line x1="1715.53" y1="2209.40" x2="1715.53" y2="2224.60" stroke="#000" stroke-width="2.8000000000000003" stroke-linecap="round"/>
<text transform="translate(1715.53 2307.0) scale(1 1.035)" font-size="60" text-anchor="middle">2000</text>
<line x1="1895.85" y1="2209.40" x2="1895.85" y2="2224.60" stroke="#000" stroke-width="2.8000000000000003" stroke-linecap="round"/>
<text transform="translate(1895.85 2307.0) scale(1 1.035)" font-size="60" text-anchor="middle">3000</text>
<line x1="2076.17" y1="2209.40" x2="2076.17" y2="2224.60" stroke="#000" stroke-width="2.8000000000000003" stroke-linecap="round"/>
<text transform="translate(2076.17 2307.0) scale(1 1.035)" font-size="60" text-anchor="middle">4000</text>
<line x1="2256.48" y1="2209.40" x2="2256.48" y2="2224.60" stroke="#000" stroke-width="2.8000000000000003" stroke-linecap="round"/>
<text transform="translate(2256.48 2307.0) scale(1 1.035)" font-size="60" text-anchor="middle">5000</text>
<line x1="2436.80" y1="2209.40" x2="2436.80" y2="2224.60" stroke="#000" stroke-width="2.8000000000000003" stroke-linecap="round"/>
<text transform="translate(2436.80 2307.0) scale(1 1.035)" font-size="60" text-anchor="middle">6000</text>
<line x1="1339.40" y1="1398.55" x2="1354.90" y2="1398.55" stroke="#000" stroke-width="2.8000000000000003" stroke-linecap="round"/>
<line x1="1339.40" y1="1668.90" x2="1354.90" y2="1668.90" stroke="#000" stroke-width="2.8000000000000003" stroke-linecap="round"/>
<line x1="1339.40" y1="1939.25" x2="1354.90" y2="1939.25" stroke="#000" stroke-width="2.8000000000000003" stroke-linecap="round"/>
<text transform="translate(1379.50 1193.80) scale(1 1.02)" font-size="60">2021</text>
<text x="1896.75" y="2412.6" font-size="59.4" text-anchor="middle">Leaf area (cm<tspan font-size="35" dy="-24.6">2</tspan><tspan dy="24.6">)</tspan></text>
<line x1="756.90" y1="180.70" x2="756.90" y2="279.00" stroke="#000" stroke-width="2.9000000000000004" stroke-linecap="butt"/>
<text transform="translate(765.20 212.80) rotate(90)" font-size="52" text-anchor="start">ns</text>
<line x1="685.10" y1="305.00" x2="685.10" y2="402.30" stroke="#000" stroke-width="2.9000000000000004" stroke-linecap="butt"/>
<text transform="translate(692.80 333.80) rotate(90)" font-size="52" text-anchor="start">ns</text>
<line x1="685.10" y1="444.80" x2="685.10" y2="542.60" stroke="#000" stroke-width="2.9000000000000004" stroke-linecap="butt"/>
<text transform="translate(693.00 477.90) rotate(90)" font-size="52" text-anchor="start">ns</text>
<line x1="685.10" y1="568.60" x2="685.10" y2="666.40" stroke="#000" stroke-width="2.9000000000000004" stroke-linecap="butt"/>
<text transform="translate(689.00 571.90) rotate(90)" font-size="52" text-anchor="start">ns</text>
<line x1="685.10" y1="709.70" x2="685.10" y2="806.70" stroke="#000" stroke-width="2.9000000000000004" stroke-linecap="butt"/>
<text transform="translate(697.90 729.60) rotate(90)" font-size="52" text-anchor="start">ns</text>
<line x1="657.60" y1="833.50" x2="657.60" y2="930.50" stroke="#000" stroke-width="2.9000000000000004" stroke-linecap="butt"/>
<text transform="translate(667.50 862.40) rotate(90)" font-size="52" text-anchor="start">ns</text>
<line x1="2055.70" y1="181.20" x2="2055.70" y2="278.20" stroke="#000" stroke-width="2.9000000000000004" stroke-linecap="butt"/>
<text transform="translate(2060.30 211.30) rotate(90)" font-size="52" text-anchor="start">ns</text>
<line x1="1911.40" y1="305.00" x2="1911.40" y2="402.30" stroke="#000" stroke-width="2.9000000000000004" stroke-linecap="butt"/>
<text transform="translate(1916.00 324.90) rotate(90)" font-size="52" text-anchor="start">ns</text>
<line x1="2031.70" y1="449.40" x2="2031.70" y2="545.60" stroke="#000" stroke-width="2.9000000000000004" stroke-linecap="butt"/>
<text transform="translate(2036.00 474.40) rotate(90)" font-size="52" text-anchor="start">ns</text>
<line x1="1911.10" y1="546.40" x2="1911.10" y2="644.20" stroke="#000" stroke-width="2.9000000000000004" stroke-linecap="butt"/>
<text transform="translate(1939.00 568.10) rotate(90)" font-size="52" text-anchor="start">ns</text>
<line x1="1959.20" y1="709.70" x2="1959.20" y2="806.20" stroke="#000" stroke-width="2.9000000000000004" stroke-linecap="butt"/>
<text transform="translate(1967.40 718.10) rotate(90)" font-size="52" text-anchor="start">ns</text>
<line x1="1959.20" y1="833.80" x2="1959.20" y2="930.00" stroke="#000" stroke-width="2.9000000000000004" stroke-linecap="butt"/>
<text transform="translate(1967.40 853.40) rotate(90)" font-size="52" text-anchor="start">ns</text>
<line x1="396.70" y1="1315.00" x2="396.70" y2="1411.00" stroke="#000" stroke-width="2.9000000000000004" stroke-linecap="butt"/>
<text transform="translate(400.70 1343.80) rotate(90)" font-size="52" text-anchor="start">ns</text>
<line x1="516.20" y1="1578.90" x2="516.20" y2="1676.40" stroke="#000" stroke-width="2.9000000000000004" stroke-linecap="butt"/>
<text transform="translate(520.20 1604.60) rotate(90)" font-size="52" text-anchor="start">ns</text>
<line x1="973.10" y1="1867.30" x2="973.10" y2="1965.40" stroke="#000" stroke-width="2.9000000000000004" stroke-linecap="butt"/>
<text transform="translate(983.50 1896.00) rotate(90)" font-size="52" text-anchor="start">ns</text>
<line x1="2397.80" y1="1915.60" x2="2397.80" y2="2012.50" stroke="#000" stroke-width="2.9000000000000004" stroke-linecap="butt"/>
<text transform="translate(2402.80 1936.50) rotate(90)" font-size="52" text-anchor="start">ns</text>
<text transform="translate(917.50 526.00) rotate(90)" font-size="52" text-anchor="start">ns</text>
<text transform="translate(896.30 804.10) rotate(90)" font-size="52" text-anchor="start">ns</text>
<text transform="translate(2227.50 526.00) rotate(90)" font-size="52" text-anchor="start">ns</text>
<text transform="translate(2158.10 779.40) rotate(90)" font-size="52" text-anchor="start">ns</text>
<text transform="translate(1159.70 1968.10) rotate(90)" font-size="52" text-anchor="start">ns</text>
<text transform="translate(1944.20 1406.50) rotate(90)" font-size="52" text-anchor="start">ns</text>
<text transform="translate(1954.20 1668.20) rotate(90)" font-size="52" text-anchor="start">ns</text>
<line x1="1719.20" y1="1314.30" x2="1719.20" y2="1421.70" stroke="#000" stroke-width="2.9000000000000004" stroke-linecap="butt"/>
<line x1="1719.20" y1="1578.80" x2="1719.20" y2="1676.10" stroke="#000" stroke-width="2.9000000000000004" stroke-linecap="butt"/>
<line x1="2368.60" y1="1867.40" x2="2368.60" y2="1964.40" stroke="#000" stroke-width="2.9000000000000004" stroke-linecap="butt"/>
<path d="M828.70 231.80H961.20V328.20H828.70" fill="none" stroke="#000" stroke-width="2.5" stroke-linejoin="round"/>
<path d="M757.10 496.10H889.60V593.60H757.10" fill="none" stroke="#000" stroke-width="2.5" stroke-linejoin="round"/>
<path d="M757.10 785.80H889.60V881.00H757.10" fill="none" stroke="#000" stroke-width="2.5" stroke-linejoin="round"/>
<path d="M2079.90 256.50H2175.50V352.50H2079.90" fill="none" stroke="#000" stroke-width="2.5" stroke-linejoin="round"/>
<path d="M2079.90 496.10H2212.50V593.60H2079.90" fill="none" stroke="#000" stroke-width="2.5" stroke-linejoin="round"/>
<path d="M2018.90 760.20H2152.00V857.30H2018.90" fill="none" stroke="#000" stroke-width="2.5" stroke-linejoin="round"/>
<path d="M492.60 1386.50H624.70V1482.40H492.60" fill="none" stroke="#000" stroke-width="2.5" stroke-linejoin="round"/>
<path d="M625.00 1650.90H757.40V1747.50H625.00" fill="none" stroke="#000" stroke-width="2.5" stroke-linejoin="round"/>
<path d="M1021.80 1940.20H1154.80V2035.90H1021.80" fill="none" stroke="#000" stroke-width="2.5" stroke-linejoin="round"/>
<path d="M1803.10 1384.50H1935.60V1480.80H1803.10" fill="none" stroke="#000" stroke-width="2.5" stroke-linejoin="round"/>
<path d="M1803.10 1650.60H1935.60V1746.80H1803.10" fill="none" stroke="#000" stroke-width="2.5" stroke-linejoin="round"/>
<text transform="translate(1016.35 275.50) scale(0.905 1.126)" x="-13.54 13.54" y="24.23" font-size="52" text-anchor="middle">**</text>
<text transform="translate(687.50 1423.25) scale(0.905 1.126)" x="-28.73 0.00 28.73" y="24.23" font-size="52" text-anchor="middle">***</text>
<text transform="translate(825.65 1689.70) scale(0.905 1.126)" x="-29.12 0.00 29.12" y="24.23" font-size="52" text-anchor="middle">***</text>
<text transform="translate(2196.70 297.85) scale(0.905 1.126)" x="0.29" y="27.96" font-size="60" text-anchor="middle">*</text>
<text transform="translate(1739.50 1351.45) scale(0.905 1.126)" x="0.18" y="27.96" font-size="60" text-anchor="middle">*</text>
<text transform="translate(1739.50 1616.85) scale(0.905 1.126)" x="0.18" y="27.96" font-size="60" text-anchor="middle">*</text>
<text transform="translate(2381.70 1909.15) scale(0.905 1.126)" x="0.18" y="27.96" font-size="60" text-anchor="middle">*</text>
<rect x="2181.10" y="92.30" width="94.40" height="30.40" fill="#fff" stroke="#000" stroke-width="3.4" stroke-linejoin="round"/>
<text x="2298.00" y="121.70" font-size="43" text-anchor="start">SXY</text>
<rect x="2181.10" y="140.30" width="94.40" height="30.40" fill="#dfefff" stroke="#000" stroke-width="3.4" stroke-linejoin="round"/>
<text x="2298.00" y="169.60" font-size="43" text-anchor="start">SHXY</text>
<rect x="2181.10" y="188.40" width="94.40" height="30.40" fill="#809fff" stroke="#000" stroke-width="3.4" stroke-linejoin="round"/>
<text x="2298.00" y="217.60" font-size="43" text-anchor="start">INDxy</text>
<rect x="2181.10" y="236.10" width="94.40" height="30.40" fill="#0080ff" stroke="#000" stroke-width="3.4" stroke-linejoin="round"/>
<text x="2298.00" y="265.40" font-size="43" text-anchor="start">IHDxy</text>
<clipPath id="lg"><rect x="2181.10" y="1173.10" width="94.40" height="30.40"/></clipPath>
<rect x="2181.10" y="1173.10" width="94.40" height="30.40" fill="#fff"/>
<g clip-path="url(#lg)">
<line x1="2184.00" y1="1207.80" x2="2229.00" y2="1162.80" stroke="#000" stroke-width="2.9" stroke-linecap="butt"/>
<line x1="2230.00" y1="1207.80" x2="2275.00" y2="1162.80" stroke="#000" stroke-width="2.9" stroke-linecap="butt"/>
<line x1="2138.00" y1="1207.80" x2="2183.00" y2="1162.80" stroke="#000" stroke-width="2.9" stroke-linecap="butt"/>
<line x1="2276.00" y1="1207.80" x2="2321.00" y2="1162.80" stroke="#000" stroke-width="2.9" stroke-linecap="butt"/>
</g>
<rect x="2181.10" y="1173.10" width="94.40" height="30.40" fill="none" stroke="#000" stroke-width="3.4" stroke-linejoin="round"/>
<text x="2300.00" y="1202.80" font-size="43" text-anchor="start">SZD</text>
<rect x="2181.10" y="1221.10" width="94.40" height="30.40" fill="#ffdfdf" stroke="#000" stroke-width="3.4" stroke-linejoin="round"/>
<text x="2300.00" y="1250.40" font-size="43" text-anchor="start">INDzd</text>
<rect x="2181.10" y="1269.20" width="94.40" height="30.40" fill="#ff8080" stroke="#000" stroke-width="3.4" stroke-linejoin="round"/>
<text x="2300.00" y="1298.30" font-size="43" text-anchor="start">IHDzd</text>
</svg>
</body></html>
